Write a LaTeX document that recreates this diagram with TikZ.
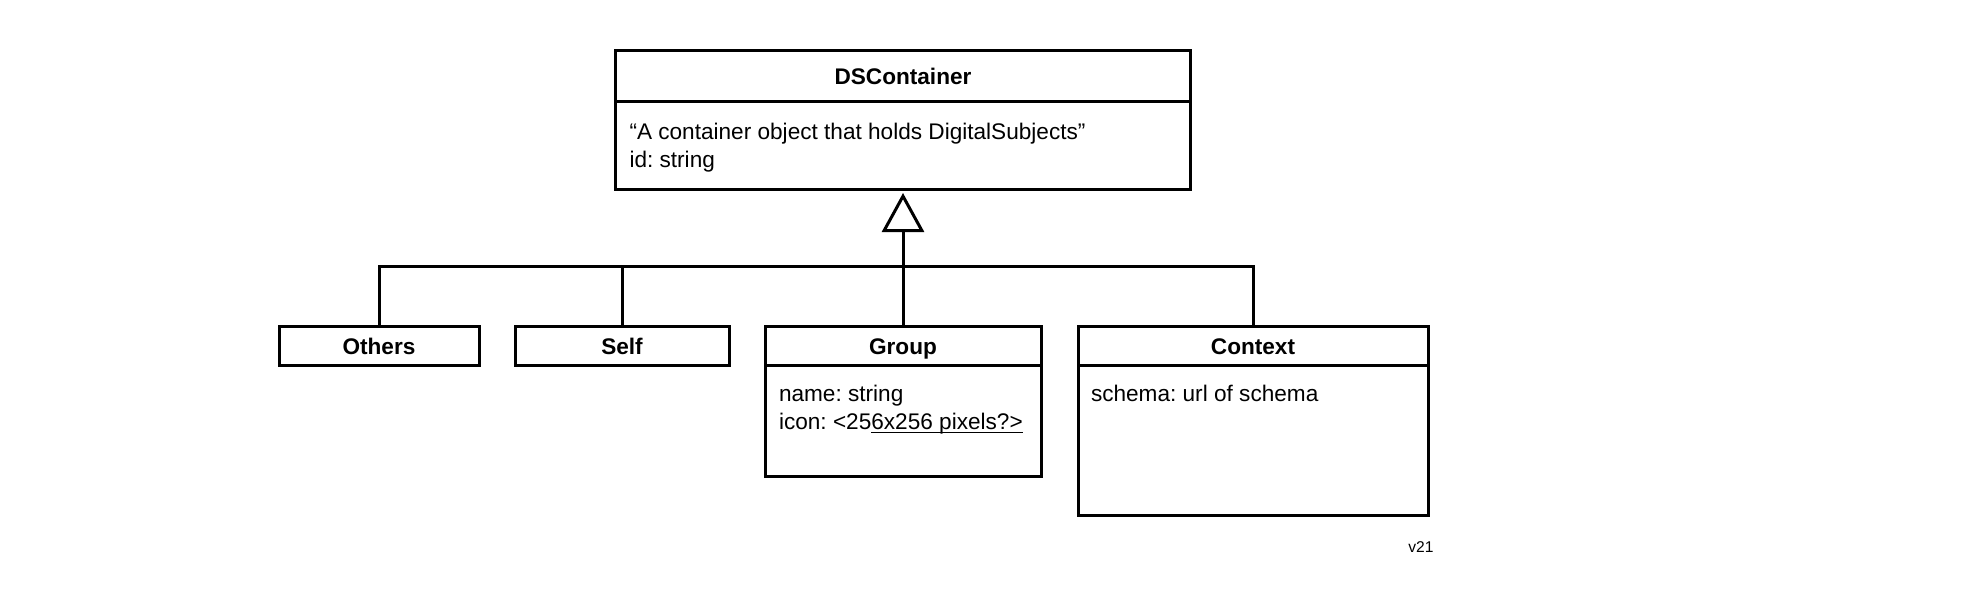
\documentclass[tikz,border=0pt]{standalone}
\usepackage{fontspec}
\setmainfont{Liberation Sans}
\usetikzlibrary{calc,positioning,arrows.meta}
\newcommand\ulntext[1]{\setbox0\hbox{#1}\rlap{\rule[-1.6pt]{\wd0}{0.5pt}}\box0}

\begin{document}
\frenchspacing
\begin{tikzpicture}[x=0.5pt,y=-0.5pt,line width=1.5pt,inner sep=0pt,outer sep=0pt,
  classhead/.style={draw,font=\fontsize{11.3}{14}\selectfont\bfseries,minimum height=19.5pt,text height=9.7pt,text depth=0.7pt},
  classbody/.style={draw,anchor=north},
  attr/.style={anchor=north west,align=left,font=\fontsize{11.3}{14}\selectfont},
  inherit/.style={-{Triangle[open,length=19.5pt,width=21pt]}}]
\useasboundingbox (0,0) rectangle (1980,602);

\node[classhead,minimum width=287.5pt,minimum height=25.25pt] (dshead) at (903,75.75) {DSContainer};
\node[classbody,minimum width=287.5pt,minimum height=44.25pt] (dsbody) at (dshead.south) {};
\node[attr] (dsattr) at ($(dsbody.north west)+(14,22.5)$) {“A container object that holds DigitalSubjects”\\id: string};

\node[classhead,minimum width=100pt] (othershead) at (379,345.5) {Others};
\node[classhead,minimum width=107pt] (selfhead) at (622,345.5) {Self};
\node[classhead,minimum width=138pt] (grouphead) at (903,345.5) {Group};
\node[classbody,minimum width=138pt,minimum height=55.5pt] (groupbody) at (grouphead.south) {};
\node[attr] (groupattr) at ($(groupbody.north west)+(14,20)$) {name: string\\icon: <25\ulntext{6x256 pixels?>}};
\node[classhead,minimum width=175pt] (contexthead) at (1253,345.5) {Context};
\node[classbody,minimum width=175pt,minimum height=75pt] (contextbody) at (contexthead.south) {};
\node[attr] (contextattr) at ($(contextbody.north west)+(13,20)$) {schema: url of schema};

\node[font=\fontsize{7.8}{9}\selectfont] (version) at (1421,547) {v21};

\coordinate (bus) at (903,266.5);
\coordinate (tip) at (903,193);
\draw[inherit] (grouphead.north) -- (bus) -- (tip);
\draw (othershead.north) |- (bus) -| (contexthead.north);
\draw (selfhead.north) -- (selfhead.north |- bus);

\end{tikzpicture}
\end{document}
